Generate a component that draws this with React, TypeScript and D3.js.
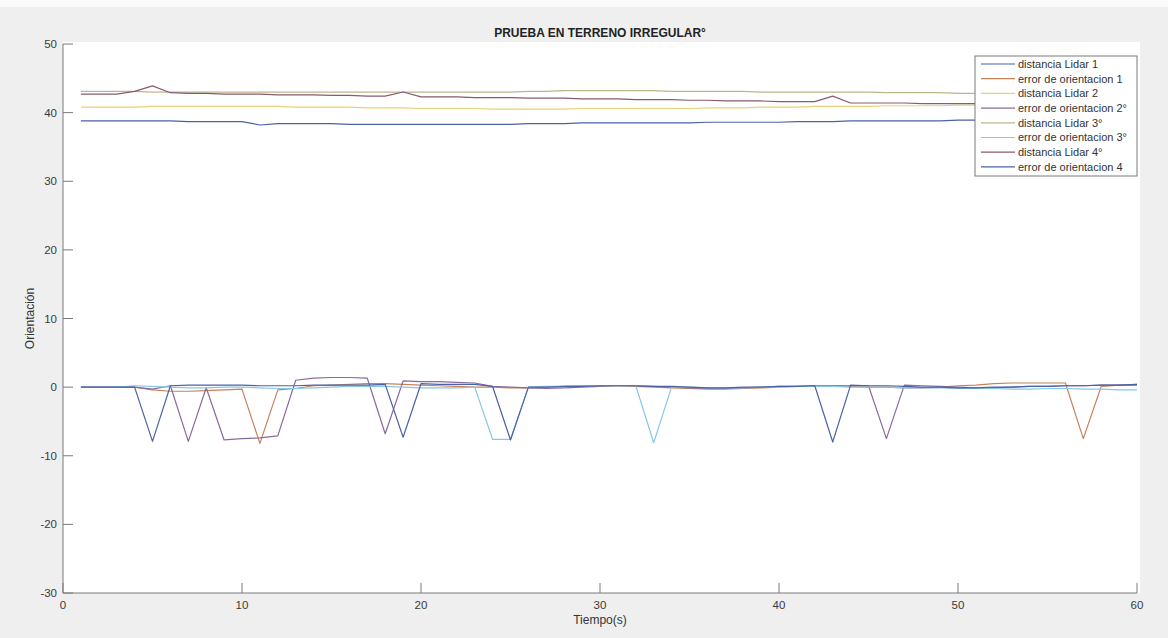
import React from "react";
import * as d3 from "d3";

const tiempo = d3.range(1, 61);

const distanciaLidar1 = [38.8,38.8,38.8,38.8,38.8,38.8,38.7,38.7,38.7,38.7,38.2,38.4,38.4,38.4,38.4,38.3,38.3,38.3,38.3,38.3,38.3,38.3,38.3,38.3,38.3,38.4,38.4,38.4,38.5,38.5,38.5,38.5,38.5,38.5,38.5,38.6,38.6,38.6,38.6,38.6,38.7,38.7,38.7,38.8,38.8,38.8,38.8,38.8,38.8,38.9,38.9,38.9,38.9,38.9,38.9,39.0,39.0,39.0,39.0,39.0];
const errorOrientacion1 = [0,0,0,0,-0.4,-0.6,-0.6,-0.5,-0.4,-0.3,-8.2,-0.4,-0.2,0.2,0.3,0.4,0.5,0.5,0.4,0.3,0.2,0.1,0,0,-0.1,-0.1,0,0.1,0.2,0.2,0.2,0.1,0,-0.1,-0.2,-0.3,-0.3,-0.2,-0.1,0,0.1,0.2,0.2,0.1,0,0,-0.1,-0.1,0,0.2,0.3,0.5,0.6,0.6,0.6,0.6,-7.5,0.1,0.3,0.4];
const distanciaLidar2 = [40.8,40.8,40.8,40.8,40.9,40.9,40.9,40.9,40.9,40.9,40.9,40.9,40.8,40.8,40.8,40.8,40.7,40.7,40.7,40.6,40.6,40.6,40.6,40.5,40.5,40.5,40.5,40.5,40.6,40.6,40.6,40.6,40.6,40.6,40.6,40.7,40.7,40.7,40.8,40.8,40.8,40.9,40.9,40.9,40.9,41.0,41.0,41.0,41.0,41.1,41.1,41.1,41.1,41.1,41.1,41.2,41.2,41.2,41.3,41.3];
const errorOrientacion2 = [0,0,0,0,-0.3,0.2,-7.9,-0.1,-7.7,-7.5,-7.4,-7.1,1.0,1.3,1.4,1.4,1.3,-6.8,0.9,0.8,0.8,0.7,0.6,0.1,0,-0.1,-0.2,-0.1,0,0.1,0.2,0.2,0.1,0,-0.1,-0.2,-0.2,-0.1,0,0.1,0.1,0.2,0.2,0.2,0.2,-7.5,0.3,0.2,0.1,0,-0.1,-0.1,0,0.1,0.1,0.2,0.2,0.3,0.3,0.3];
const distanciaLidar3 = [43.1,43.1,43.1,43.1,43.0,43.0,43.0,43.0,43.0,43.0,43.0,43.0,43.0,43.0,43.0,43.0,43.0,43.0,43.0,43.0,43.0,43.0,43.0,43.0,43.0,43.1,43.1,43.2,43.2,43.2,43.2,43.2,43.2,43.1,43.1,43.1,43.1,43.1,43.0,43.0,43.0,43.0,43.0,43.0,43.0,42.9,42.9,42.9,42.9,42.8,42.8,42.8,42.8,42.8,42.7,42.7,42.7,42.6,42.6,42.6];
const errorOrientacion3 = [0,0,0,0.2,0.1,0,-0.1,-0.1,0,0,-0.1,-0.2,-0.2,-0.1,0,0.1,0.1,0.1,0,-0.1,-0.1,-0.1,0,-7.6,-7.6,0,0.1,0.1,0.2,0.2,0.2,0.2,-8.1,0,0,-0.1,-0.1,-0.1,0,0,0.1,0.1,0.1,0,0,0,-0.1,-0.1,-0.1,-0.2,-0.2,-0.2,-0.3,-0.3,-0.2,-0.2,-0.3,-0.3,-0.4,-0.4];
const distanciaLidar4 = [42.7,42.7,42.7,43.1,43.9,42.9,42.8,42.8,42.7,42.7,42.7,42.6,42.6,42.6,42.5,42.5,42.4,42.4,43.0,42.3,42.3,42.3,42.2,42.2,42.2,42.1,42.1,42.1,42.0,42.0,42.0,41.9,41.9,41.9,41.8,41.8,41.7,41.7,41.7,41.6,41.6,41.6,42.4,41.4,41.4,41.4,41.4,41.3,41.3,41.3,41.3,41.3,41.3,41.3,41.2,41.2,41.2,41.2,41.2,41.2];
const errorOrientacion4 = [0,0,0,0,-7.9,0.2,0.3,0.3,0.3,0.3,0.2,0.2,0.2,0.3,0.3,0.3,0.3,0.4,-7.3,0.5,0.4,0.4,0.4,0.1,-7.7,0,0,0.1,0.1,0.2,0.2,0.2,0.1,0.1,0,-0.1,-0.1,0,0,0.1,0.1,0.2,-8.0,0.3,0.2,0.2,0.1,0,0,-0.1,-0.1,0,0,0.1,0.1,0.2,0.2,0.3,0.3,0.4];

const seriesNames = [
  "distancia Lidar 1",
  "error de orientacion 1",
  "distancia Lidar 2",
  "error de orientacion 2°",
  "distancia Lidar 3°",
  "error de orientacion 3°",
  "distancia Lidar 4°",
  "error de orientacion 4",
];
const seriesValues = [
  distanciaLidar1,
  errorOrientacion1,
  distanciaLidar2,
  errorOrientacion2,
  distanciaLidar3,
  errorOrientacion3,
  distanciaLidar4,
  errorOrientacion4,
];
const seriesColors = ["#4b63a6", "#c8825a", "#e6d27a", "#8a6a9e", "#bdb68a", "#86c8e6", "#8a5a6e", "#4b63a6"];

const xTicks = [0, 10, 20, 30, 40, 50, 60];
const yTicks = [-30, -20, -10, 0, 10, 20, 30, 40, 50];

const W = 1168;
const H = 638;
const left = 63, right = 1137, top = 44, bottom = 593;
const font = "'Liberation Sans', Arial, Helvetica, sans-serif";

export default function App() {
  const x = d3.scaleLinear().domain([0, 60]).range([left, right]);
  const y = d3.scaleLinear().domain([-30, 50]).range([bottom, top]);
  const line = d3
    .line<number>()
    .x((_, i) => x(tiempo[i]))
    .y((d) => y(d));

  const legX = 975, legY = 56, legW = 162, legH = 120;
  const rowH = 14.7;

  return (
    <svg
      width={W}
      height={H}
      style={{ position: "fixed", left: 0, top: 0, display: "block" }}
      fontFamily={font}
    >
      <rect x={0} y={0} width={W} height={H} fill="#efefef" />
      <rect x={0} y={0} width={W} height={7} fill="#fafafa" />
      <rect x={left} y={42} width={right - left + 3} height={bottom - 42} fill="#ffffff" />

      <g fill="none" strokeWidth={1.2} strokeLinejoin="round">
        {seriesValues.map((vals, i) => (
          <path key={i} d={line(vals) || ""} stroke={seriesColors[i]} />
        ))}
      </g>

      <g stroke="#7a7a7a" strokeWidth={1}>
        <line x1={left} y1={top} x2={left} y2={bottom} />
        <line x1={left} y1={bottom} x2={right} y2={bottom} />
        {yTicks.map((t) => (
          <line key={"yt" + t} x1={left} x2={left + 10} y1={y(t)} y2={y(t)} />
        ))}
        {xTicks.map((t) => (
          <line key={"xt" + t} x1={x(t)} x2={x(t)} y1={bottom} y2={bottom - 10} />
        ))}
      </g>
      <g fontSize={11.5} fill="#3a3a3a">
        {yTicks.map((t) => (
          <text key={"yl" + t} x={left - 6} y={y(t)} dy="0.35em" textAnchor="end">
            {t}
          </text>
        ))}
        {xTicks.map((t) => (
          <text key={"xl" + t} x={x(t)} y={609} textAnchor="middle">
            {t}
          </text>
        ))}
      </g>
      <text x={(left + right) / 2} y={624} textAnchor="middle" fontSize={12} fill="#333">
        Tiempo(s)
      </text>
      <text
        transform={`translate(34,${(top + bottom) / 2}) rotate(-90)`}
        textAnchor="middle"
        fontSize={12}
        fill="#333"
      >
        Orientación
      </text>
      <text x={(left + right) / 2} y={37} textAnchor="middle" fontSize={12} fontWeight="bold" fill="#222">
        PRUEBA EN TERRENO IRREGULAR°
      </text>

      <g>
        <rect x={legX} y={legY} width={legW} height={legH} fill="#ffffff" stroke="#7a7a7a" strokeWidth={1} />
        {seriesNames.map((name, i) => {
          const yy = legY + 8 + i * rowH;
          return (
            <g key={name}>
              <line x1={legX + 6} x2={legX + 40} y1={yy} y2={yy} stroke={seriesColors[i]} strokeWidth={1.2} />
              <text x={legX + 43} y={yy} dy="0.35em" fontSize={11} fill="#333">
                {name}
              </text>
            </g>
          );
        })}
      </g>
    </svg>
  );
}
